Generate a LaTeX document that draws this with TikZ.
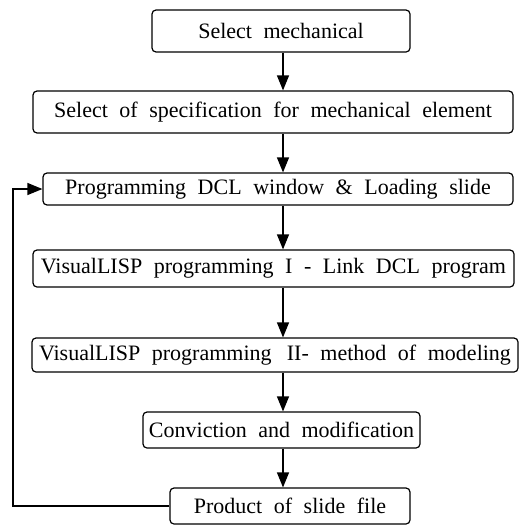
\documentclass[tikz,border=0pt]{standalone}
\usepackage{fontspec}
\setmainfont[WordSpace=2.1]{Liberation Serif}
\usetikzlibrary{arrows.meta}
\begin{document}
\begin{tikzpicture}[x=1pt,y=-1pt,
  stepbox/.style={draw,line width=1.2pt,rounded corners=4pt,inner sep=0pt,anchor=center,
    font=\fontsize{22}{26}\selectfont,align=center},
  flow/.style={line width=1.2pt,-{Triangle[length=15pt,width=12pt]}}]
\useasboundingbox (0,0) rectangle (521,525);
\node[stepbox,minimum width=258pt,minimum height=42pt] (b1) at (281,31) {Select mechanical};
\node[stepbox,minimum width=480pt,minimum height=42pt] (b2) at (273,112) {Select of specification for mechanical element};
\node[stepbox,minimum width=470pt,minimum height=32pt] (b3) at (278,189) {Programming DCL window \& Loading slide};
\node[stepbox,minimum width=481pt,minimum height=37pt] (b4) at (273.5,268.5) {VisualLISP programming I - Link DCL program};
\node[stepbox,minimum width=486pt,minimum height=34pt] (b5) at (275,355) {VisualLISP programming \,II- method of modeling};
\node[stepbox,minimum width=277pt,minimum height=36pt] (b6) at (281.5,430) {Conviction and modification};
\node[stepbox,minimum width=240pt,minimum height=36pt] (b7) at (290,506) {Product of slide file};
\coordinate (ax) at (283,0);
\coordinate (fx) at (13,0);
\draw[flow] (b1.south -| ax) -- (b2.north -| ax);
\draw[flow] (b2.south -| ax) -- (b3.north -| ax);
\draw[flow] (b3.south -| ax) -- (b4.north -| ax);
\draw[flow] (b4.south -| ax) -- (b5.north -| ax);
\draw[flow] (b5.south -| ax) -- (b6.north -| ax);
\draw[flow] (b6.south -| ax) -- (b7.north -| ax);
\draw[flow] (b7.west) -- (b7.west -| fx) -- (b3.west -| fx) -- (b3.west);
\end{tikzpicture}
\end{document}
